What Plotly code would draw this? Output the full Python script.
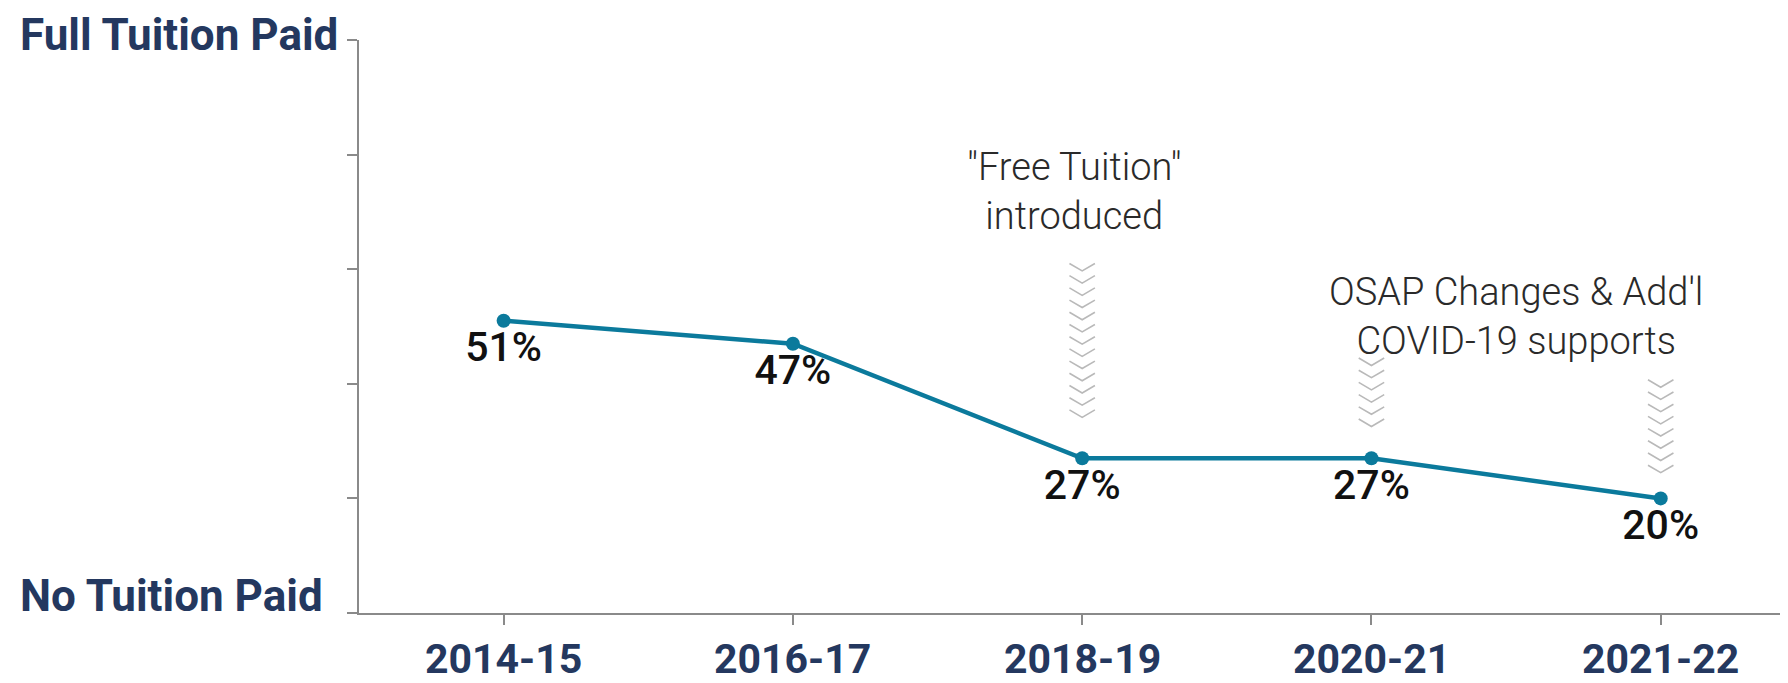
import plotly.graph_objects as go

# ---- data ----
years = ["2014-15", "2016-17", "2018-19", "2020-21", "2021-22"]
share_paid = [51, 47, 27, 27, 20]
point_labels = ["51%", "47%", "27%", "27%", "20%"]
y_tick_values = [0, 20, 40, 60, 80, 100]
y_end_labels = ["No Tuition Paid", "Full Tuition Paid"]

event_years = ["2018-19", "2020-21", "2021-22"]
chevron_top = [61.0, 44.5, 40.7]
chevron_bottom = [33.3, 30.5, 24.4]

notes = ['"Free Tuition"<br>introduced', "OSAP Changes & Add'l<br>COVID-19 supports"]
note_x = [2.0, 3.5]
note_y = [73.6, 51.8]

# ---- style ----
NAVY = "#24385f"
TEAL = "#0b7a9c"
GRAY_AX = "#8a8a8a"
CHEV = "#b9b9b9"

xpos = list(range(len(years)))

fig = go.Figure()

# chevron stacks (decoration) built from event positions
cx, cy = [], []
half_w = 0.044
step = 2.13
depth = 1.3
for ev, top, bot in zip(event_years, chevron_top, chevron_bottom):
    xc = years.index(ev)
    y = top
    while y - depth >= bot - 0.01:
        cx += [xc - half_w, xc, xc + half_w, None]
        cy += [y, y - depth, y, None]
        y -= step
fig.add_trace(go.Scatter(x=cx, y=cy, mode="lines",
                         line=dict(color=CHEV, width=1.6),
                         hoverinfo="skip", showlegend=False))

fig.add_trace(go.Scatter(
    x=xpos, y=share_paid, mode="lines+markers+text",
    line=dict(color=TEAL, width=4.5),
    marker=dict(color=TEAL, size=14),
    text=point_labels, textposition="bottom center",
    textfont=dict(family="Roboto", size=41, color="#111111", weight=500),
    showlegend=False, hoverinfo="skip"))

# page body has an 8px default margin; compensate in figure size/margins
fig.update_layout(
    width=1780, height=675,
    margin=dict(l=351, r=0, t=32, b=70, autoexpand=False),
    plot_bgcolor="white", paper_bgcolor="white",
    showlegend=False,
)
fig.update_xaxes(
    range=[-0.5, 4.44], tickmode="array", tickvals=xpos,
    ticktext=[""] * len(xpos), automargin=False,
    showline=True, linecolor=GRAY_AX, linewidth=2,
    ticks="outside", ticklen=10, tickcolor=GRAY_AX, tickwidth=2,
    showgrid=False, zeroline=False,
)
fig.update_yaxes(
    range=[0, 100], tickmode="array", tickvals=y_tick_values,
    ticktext=[""] * len(y_tick_values), automargin=False,
    showline=True, linecolor=GRAY_AX, linewidth=2,
    ticks="outside", ticklen=10, tickcolor=GRAY_AX, tickwidth=2,
    showgrid=False, zeroline=False,
)

# x category labels
for x, lab in zip(xpos, years):
    fig.add_annotation(x=x, xref="x", y=0, yref="paper", text=lab,
                       showarrow=False, xanchor="center", yanchor="middle",
                       yshift=-46,
                       font=dict(family="Roboto", size=41, color=NAVY, weight=700))

# y end labels
for val, lab, shift in zip([y_tick_values[0], y_tick_values[-1]], y_end_labels, [17, 5]):
    fig.add_annotation(x=0, xref="paper", y=val, yref="y", text=lab,
                       showarrow=False, xanchor="left", yanchor="middle",
                       xshift=-341, yshift=shift,
                       font=dict(family="Roboto", size=44, color=NAVY, weight=700))

for t, x, y in zip(notes, note_x, note_y):
    fig.add_annotation(x=x, y=y, xref="x", yref="y", text=t, showarrow=False,
                       xanchor="center", yanchor="middle", xshift=-8 if x == 2.0 else 0,
                       font=dict(family="Roboto", size=38, color="#2a2a2a", weight=300))

fig.write_html("out.html", config={"displayModeBar": False})
